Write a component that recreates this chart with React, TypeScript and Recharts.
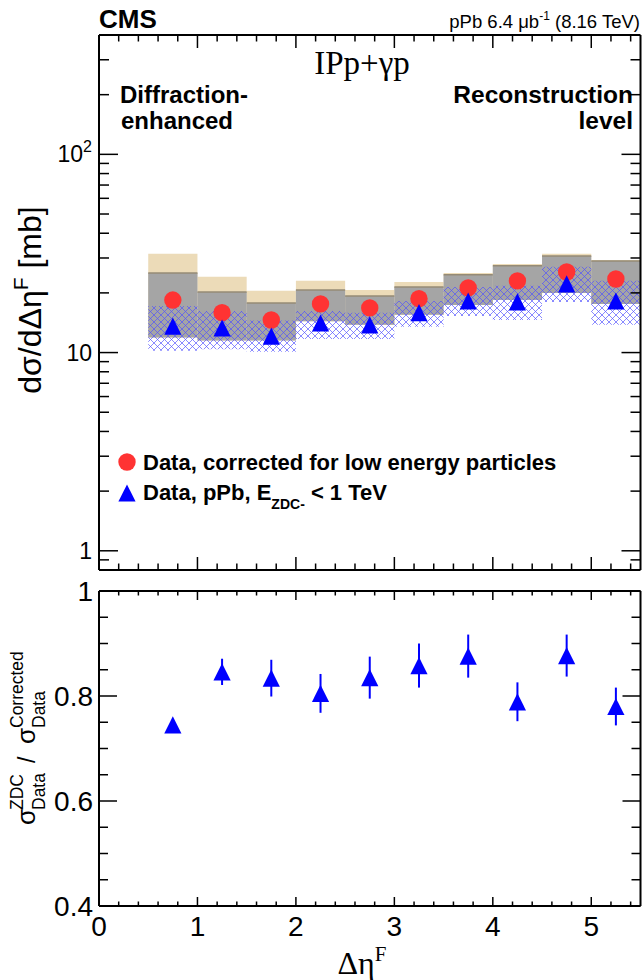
import React from 'react';
import { ComposedChart, XAxis, YAxis, Scatter, ReferenceArea, ReferenceLine, ErrorBar } from 'recharts';

// ---- data ----
const binLow = [0.5, 1.0, 1.5, 2.0, 2.5, 3.0, 3.5, 4.0, 4.5, 5.0];
const binHigh = [1.0, 1.5, 2.0, 2.5, 3.0, 3.5, 4.0, 4.5, 5.0, 5.5];
const binCenter = [0.75, 1.25, 1.75, 2.25, 2.75, 3.25, 3.75, 4.25, 4.75, 5.25];
const correctedData = [18.4, 15.9, 14.6, 17.6, 16.8, 18.7, 21.2, 23.0, 25.5, 23.5];
const zdcData = [13.6, 13.3, 12.1, 14.1, 13.8, 15.9, 18.2, 18.0, 22.2, 18.2];
const modelUncHigh = [31.5, 24.1, 20.5, 23.0, 20.7, 22.7, 25.2, 28.0, 31.5, 29.3];
const systHigh = [25.2, 20.2, 17.8, 20.7, 19.3, 21.4, 24.7, 27.4, 30.7, 29.0];
const systLow = [11.9, 11.5, 11.5, 14.4, 13.8, 15.5, 17.4, 18.4, 20.0, 17.6];
const zdcSystHigh = [17.2, 16.2, 14.5, 16.2, 15.9, 18.2, 21.4, 21.7, 27.1, 23.0];
const zdcSystLow = [10.2, 10.4, 10.1, 11.7, 11.7, 13.5, 15.3, 14.6, 18.0, 13.8];
const ratio = [0.745, 0.846, 0.834, 0.805, 0.835, 0.858, 0.876, 0.789, 0.877, 0.780];
const ratioErr = [0.005, 0.025, 0.035, 0.037, 0.04, 0.042, 0.041, 0.037, 0.04, 0.036];

const xMajorTicks = [0, 1, 2, 3, 4, 5];
const xMajorLabels = ['0', '1', '2', '3', '4', '5'];
const logMajorTicks = [1, 10, 100];
const logTickMultipliers = [1, 2, 3, 4, 5, 6, 7, 8, 9];
const ratioMajorTicks = [0.4, 0.6, 0.8, 1.0];
const ratioMajorLabels = ['0.4', '0.6', '0.8', '1'];

const xDomain = [0, 5.5];
const logDomain = [0.8, 400];
const ratioDomain = [0.4, 1.0];

// tick lists (major + minor)
const xAllTicks: number[] = [];
for (let i = 0; i <= 27; i++) xAllTicks.push(Math.round(i * 2) / 10);
const logAllTicks: number[] = [0.9];
for (const d of [1, 10, 100]) for (const m of logTickMultipliers) {
  const v = Math.round(d * m * 1000) / 1000;
  if (v < logDomain[1]) logAllTicks.push(v);
}
const ratioAllTicks: number[] = [];
for (let i = 0; i <= 12; i++) ratioAllTicks.push(Math.round((0.4 + i * 0.05) * 100) / 100);

const corrPoints = binCenter.map((x, i) => ({ x, y: correctedData[i] }));
const zdcPoints = binCenter.map((x, i) => ({ x, y: zdcData[i] }));
const ratioPoints = binCenter.map((x, i) => ({ x, y: ratio[i], err: ratioErr[i] }));

const RED = '#ff3333';
const BLUE = '#0000ff';
const FONT = 'Liberation Sans, Arial, Helvetica, sans-serif';
const SERIF = 'Liberation Serif, Times New Roman, serif';

const isIn = (v: number, arr: number[]) => arr.some((a) => Math.abs(a - v) < 1e-6);

function makeXTick(side: 'top' | 'bottom', majorLen: number, minorLen: number, labels: boolean, fs: number) {
  return (props: any) => {
    const { x, y, payload } = props;
    const v = payload.value;
    const major = isIn(v, xMajorTicks);
    const len = major ? majorLen : minorLen;
    const dir = side === 'bottom' ? -1 : 1;
    const idx = xMajorTicks.findIndex((a) => Math.abs(a - v) < 1e-6);
    return (
      <g>
        <line x1={x} y1={y} x2={x} y2={y + dir * len} stroke="#000" strokeWidth={1.5} />
        {labels && major && (
          <text x={x} y={y + 30} textAnchor="middle" fontSize={fs} fontFamily={FONT} fill="#000">
            {xMajorLabels[idx]}
          </text>
        )}
      </g>
    );
  };
}

function makeYTickRight(majorSet: number[], majorLen: number, minorLen: number) {
  return (props: any) => {
    const { x, y, payload } = props;
    const v = payload.value;
    const len = isIn(v, majorSet) ? majorLen : minorLen;
    return <line x1={x} y1={y} x2={x - len} y2={y} stroke="#000" strokeWidth={1.5} />;
  };
}

function LogYTickLeft(props: any) {
  const { x, y, payload } = props;
  const v = payload.value;
  const major = isIn(v, logMajorTicks);
  const len = major ? 19 : 10;
  return (
    <g>
      <line x1={x} y1={y} x2={x + len} y2={y} stroke="#000" strokeWidth={1.5} />
      {major && (
        <text x={x - 7} y={y + 8} textAnchor="end" fontSize={23} fontFamily={FONT} fill="#000">
          {Math.abs(v - 100) < 1e-6 ? (
            <>
              10<tspan dy={-10} fontSize={16}>2</tspan>
            </>
          ) : Math.abs(v - 10) < 1e-6 ? '10' : '1'}
        </text>
      )}
    </g>
  );
}

function RatioYTickLeft(props: any) {
  const { x, y, payload } = props;
  const v = payload.value;
  const major = isIn(v, ratioMajorTicks);
  const len = major ? 18 : 9;
  const idx = ratioMajorTicks.findIndex((a) => Math.abs(a - v) < 1e-6);
  return (
    <g>
      <line x1={x} y1={y} x2={x + len} y2={y} stroke="#000" strokeWidth={1.5} />
      {major && (
        <text x={x - 6} y={y + 10} textAnchor="end" fontSize={28} fontFamily={FONT} fill="#000">
          {ratioMajorLabels[idx]}
        </text>
      )}
    </g>
  );
}

const circleShape = (props: any) => <circle cx={props.cx} cy={props.cy} r={8.7} fill={RED} />;
const triangleShape = (props: any) => {
  const { cx, cy } = props;
  const s = 8.6;
  return <polygon points={`${cx - s},${cy + s} ${cx + s},${cy + s} ${cx},${cy - s}`} fill={BLUE} />;
};

const axisLine = { stroke: '#000', strokeWidth: 2 };

function TopChart() {
  return (
    <ComposedChart width={642} height={580} margin={{ top: 34, right: 0.5, bottom: 9, left: 98 }}>
      <defs>
        <pattern id="hatch" width="7" height="7" patternUnits="userSpaceOnUse">
          <path d="M-1,-1 L8,8 M8,-1 L-1,8" stroke="#5050ff" strokeWidth="0.9" strokeOpacity="0.75" />
        </pattern>
      </defs>
      <XAxis xAxisId="b" type="number" dataKey="x" domain={xDomain} ticks={xAllTicks} interval={0} height={1}
        tickSize={0} tickMargin={0} tickLine={false} axisLine={axisLine} allowDataOverflow
        tick={makeXTick('bottom', 13, 6.5, false, 26)} />
      <XAxis xAxisId="t" orientation="top" type="number" dataKey="x" domain={xDomain} ticks={xAllTicks} interval={0} height={1}
        tickSize={0} tickMargin={0} tickLine={false} axisLine={axisLine} allowDataOverflow
        tick={makeXTick('top', 13, 6.5, false, 26)} />
      <YAxis yAxisId="l" type="number" dataKey="y" scale="log" domain={logDomain} ticks={logAllTicks} interval={0} width={1}
        tickSize={0} tickMargin={0} tickLine={false} axisLine={axisLine} allowDataOverflow tick={LogYTickLeft} />
      <YAxis yAxisId="r" orientation="right" type="number" dataKey="y" scale="log" domain={logDomain} ticks={logAllTicks} interval={0} width={1}
        tickSize={0} tickMargin={0} tickLine={false} axisLine={axisLine} allowDataOverflow
        tick={makeYTickRight(logMajorTicks, 19, 10)} />
      {binLow.map((lo, i) => (
        <ReferenceArea key={`tan${i}`} xAxisId="b" yAxisId="l" x1={lo} x2={binHigh[i]} y1={systLow[i]} y2={modelUncHigh[i]}
          fill="#ecdbb8" fillOpacity={1} stroke="none" ifOverflow="visible" />
      ))}
      {binLow.map((lo, i) => (
        <ReferenceArea key={`gray${i}`} xAxisId="b" yAxisId="l" x1={lo} x2={binHigh[i]} y1={systLow[i]} y2={systHigh[i]}
          fill="#a5a5a5" fillOpacity={1} stroke="none" ifOverflow="visible" />
      ))}
      {binLow.map((lo, i) => (
        <ReferenceLine key={`edge${i}`} xAxisId="b" yAxisId="l"
          segment={[{ x: lo, y: systHigh[i] }, { x: binHigh[i], y: systHigh[i] }]}
          stroke="#968b76" strokeWidth={1.5} ifOverflow="visible" />
      ))}
      {binLow.map((lo, i) => (
        <ReferenceArea key={`hatch${i}`} xAxisId="b" yAxisId="l" x1={lo} x2={binHigh[i]} y1={zdcSystLow[i]} y2={zdcSystHigh[i]}
          fill="url(#hatch)" fillOpacity={1} stroke="none" ifOverflow="visible" />
      ))}
      <Scatter xAxisId="b" yAxisId="l" data={corrPoints} shape={circleShape} isAnimationActive={false} />
      <Scatter xAxisId="b" yAxisId="l" data={zdcPoints} shape={triangleShape} isAnimationActive={false} />
    </ComposedChart>
  );
}

function BottomChart() {
  return (
    <ComposedChart width={642} height={420} margin={{ top: 30, right: 0.5, bottom: 73, left: 98 }}>
      <XAxis xAxisId="b" type="number" dataKey="x" domain={xDomain} ticks={xAllTicks} interval={0} height={1}
        tickSize={0} tickMargin={0} tickLine={false} axisLine={axisLine} allowDataOverflow
        tick={makeXTick('bottom', 9, 4.5, true, 28)} />
      <XAxis xAxisId="t" orientation="top" type="number" dataKey="x" domain={xDomain} ticks={xAllTicks} interval={0} height={1}
        tickSize={0} tickMargin={0} tickLine={false} axisLine={axisLine} allowDataOverflow
        tick={makeXTick('top', 9, 4.5, false, 28)} />
      <YAxis yAxisId="l" type="number" dataKey="y" domain={ratioDomain} ticks={ratioAllTicks} interval={0} width={1}
        tickSize={0} tickMargin={0} tickLine={false} axisLine={axisLine} allowDataOverflow tick={RatioYTickLeft} />
      <YAxis yAxisId="r" orientation="right" type="number" dataKey="y" domain={ratioDomain} ticks={ratioAllTicks} interval={0} width={1}
        tickSize={0} tickMargin={0} tickLine={false} axisLine={axisLine} allowDataOverflow
        tick={makeYTickRight(ratioMajorTicks, 18, 9)} />
      <Scatter xAxisId="b" yAxisId="l" data={ratioPoints} shape={triangleShape} isAnimationActive={false}>
        <ErrorBar dataKey="err" direction="y" width={0} stroke={BLUE} strokeWidth={2} />
      </Scatter>
    </ComposedChart>
  );
}

function Overlay() {
  return (
    <svg width={642} height={980} style={{ position: 'absolute', left: 0, top: 0, pointerEvents: 'none' }}>
      <text x={99} y={28} fontFamily={FONT} fontWeight="bold" fontSize={26} fill="#000">CMS</text>
      <text x={640} y={28} textAnchor="end" fontFamily={FONT} fontSize={18.5} fill="#000">
        pPb 6.4 μb<tspan dy={-8} fontSize={12}>-1</tspan><tspan dy={8}> (8.16 TeV)</tspan>
      </text>
      <text x={362} y={74} textAnchor="middle" fontFamily={SERIF} fontSize={33} fill="#000">IPp+γp</text>
      <text x={120} y={103} fontFamily={FONT} fontWeight="bold" fontSize={24} fill="#000">Diffraction-</text>
      <text x={121} y={129} fontFamily={FONT} fontWeight="bold" fontSize={24} fill="#000">enhanced</text>
      <text x={633} y={103} textAnchor="end" fontFamily={FONT} fontWeight="bold" fontSize={24.5} fill="#000">Reconstruction</text>
      <text x={633} y={129} textAnchor="end" fontFamily={FONT} fontWeight="bold" fontSize={24.5} fill="#000">level</text>

      {/* legend */}
      <circle cx={127} cy={462} r={8.7} fill={RED} />
      <text x={143} y={470} fontFamily={FONT} fontWeight="bold" fontSize={22} fill="#000">Data, corrected for low energy particles</text>
      <polygon points={`${127 - 8.6},${493 + 8.6} ${127 + 8.6},${493 + 8.6} ${127},${493 - 8.6}`} fill={BLUE} />
      <text x={143} y={500} fontFamily={FONT} fontWeight="bold" fontSize={22} fill="#000">
        Data, pPb, E<tspan dy={9} fontSize={14}>ZDC-</tspan><tspan dy={-9}> &lt; 1 TeV</tspan>
      </text>

      {/* top y title */}
      <g transform="translate(41,300) rotate(-90)">
        <text x={0} y={0} textAnchor="middle" fontFamily={FONT} fontSize={32} fill="#000">
          dσ/dΔη<tspan dy={-13} fontSize={21}>F</tspan><tspan dy={13}> [mb]</tspan>
        </text>
      </g>

      {/* bottom y title */}
      <g transform="translate(35,734) rotate(-90)" fontFamily={FONT} fill="#000">
        <text x={-91} y={0} fontSize={26}>σ</text>
        <text x={-76} y={-12} fontSize={17.5}>ZDC</text>
        <text x={-76} y={10} fontSize={17.5}>Data</text>
        <text x={-29} y={0} fontSize={23}>/</text>
        <text x={-10} y={0} fontSize={26}>σ</text>
        <text x={6} y={-12} fontSize={17.5}>Corrected</text>
        <text x={6} y={10} fontSize={17.5}>Data</text>
      </g>

      {/* x title */}
      <text x={362} y={974} textAnchor="middle" fontFamily={SERIF} fontSize={32} fill="#000">
        Δη<tspan dy={-13} fontSize={21}>F</tspan>
      </text>
    </svg>
  );
}

export default function App() {
  return (
    <div style={{ position: 'absolute', left: 0, top: 0, width: 642, height: 980, background: '#fff', fontFamily: FONT }}>
      <div style={{ position: 'absolute', left: 0, top: 0 }}>
        <TopChart />
      </div>
      <div style={{ position: 'absolute', left: 0, top: 560 }}>
        <BottomChart />
      </div>
      <Overlay />
    </div>
  );
}
